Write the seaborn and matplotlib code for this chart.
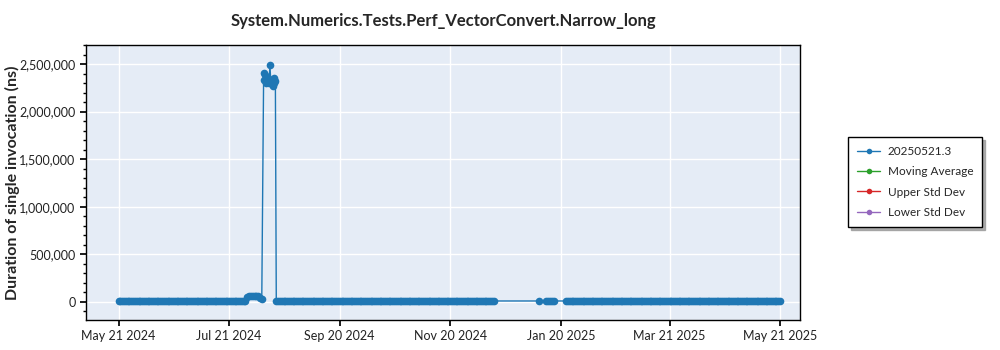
import matplotlib
matplotlib.use("Agg")
import matplotlib.pyplot as plt
import matplotlib.dates as mdates
from matplotlib.ticker import FuncFormatter, MultipleLocator
import pandas as pd
import seaborn as sns

# ---------------- data ----------------
series_name = "20250521.3"
title = "System.Numerics.Tests.Perf_VectorConvert.Narrow_long"
ylabel = "Duration of single invocation (ns)"
legend_labels = ["20250521.3", "Moving Average", "Upper Std Dev", "Lower Std Dev"]
legend_colors = ["#1f77b4", "#2ca02c", "#d62728", "#9467bd"]

# daily runs, May 21 2024 onward
seg1_start = "2024-05-21"
seg1_vals = [10100, 9900, 9800, 10200, 10500, 10000, 9900, 9700, 10100, 10000,
             10400, 10100, 9900, 10000, 9800, 10200, 10100, 10600, 10000, 9900,
             9700, 10100, 10000, 10200, 10500, 10000, 10100, 9800, 10000, 10200,
             10100, 10400, 10000, 9900, 9800, 10000, 10200, 9900, 10100, 10000,
             9800, 10300, 10000, 9900, 10100, 10000, 10200, 9900, 9800, 10100,
             10000, 10400, 10000, 9900, 10100, 9800, 10000, 10200, 10000, 9900,
             10100, 10000, 9800, 10300, 10000, 10100, 9900, 10000, 10200, 9800,
             11000]

bump_start = "2024-07-31"
bump_vals = [48000, 60000, 64000, 66000, 65000, 63000, 60000, 42000, 35000]

spike_start = "2024-08-09 00:00"
spike_vals = [2330000, 2405000, 2380000, 2300000, 2315000, 2350000, 2300000,
              2490000, 2300000, 2285000, 2270000, 2300000, 2350000, 2320000]

seg4_start = "2024-08-16"
seg4_vals = [9800, 10000, 10200, 9900, 10100, 10000, 9800, 10300, 10000, 9900,
             10100, 10000, 10200, 9900, 9800, 10100, 10000, 10400, 10000, 9900,
             10100, 9800, 10000, 10200, 10000, 9900, 10100, 10000, 9800, 10300,
             10000, 10100, 9900, 10000, 10200, 9800, 10000, 10100, 9900, 10000,
             10300, 10000, 9800, 10100, 10000, 9900, 10200, 10000, 10100, 9800,
             10000, 10200, 9900, 10000, 10100, 9800, 10000, 10300, 10000, 9900,
             10100, 10000, 9900, 10200, 10000, 9800, 10100, 10000, 10200, 9900,
             10000, 10100, 9800, 10000, 10300, 10000, 9900, 10100, 10000, 9800,
             10200, 10000, 10100, 9900, 10000, 10200, 9800, 10000, 10100, 9900,
             10000, 10300, 10000, 9800, 10100, 10000, 9900, 10200, 10000, 10100,
             9800, 10000, 10200, 9900, 10000, 10100, 9800, 10000, 10300, 10000,
             9900, 10100, 10000, 9800, 10200, 10000, 10100, 9900, 10000, 10200,
             10000]

seg5_dates = ["2025-01-08", "2025-01-12", "2025-01-13", "2025-01-14",
              "2025-01-15", "2025-01-16"]
seg5_vals = [10200, 9900, 10100, 10000, 9800, 10000]

seg6_start = "2025-01-23"
seg6_vals = [10000, 10100, 9900, 10200, 10000, 9800, 10100, 10000, 10300, 9900,
             10000, 10100, 9800, 10000, 10200, 10000, 9900, 10100, 10000, 9800,
             10200, 10000, 10100, 9900, 10000, 10300, 10000, 9800, 10100, 10000,
             9900, 10200, 10000, 10100, 9800, 10000, 10200, 9900, 10000, 10100,
             10000, 9800, 10300, 10000, 9900, 10100, 10000, 10200, 9800, 10000,
             10100, 9900, 10000, 10200, 10000, 9800, 10100, 10000, 9900, 10100,
             10000, 10200, 9900, 10000, 10100, 9800, 10000, 10300, 10000, 9900,
             10100, 10000, 9800, 10200, 10000, 10100, 9900, 10000, 10200, 9800,
             10000, 10100, 9900, 10000, 10300, 10000, 9800, 10100, 10000, 9900,
             10200, 10000, 10100, 9800, 10000, 10200, 9900, 10000, 10100, 9800,
             10000, 10300, 10000, 9900, 10100, 10000, 9800, 10200, 10000, 10100,
             9900, 10000, 10200, 9800, 10000, 10100, 9900, 10000, 10100]

xtick_dates = ["2024-05-21", "2024-07-21", "2024-09-20", "2024-11-20",
               "2025-01-20", "2025-03-21", "2025-05-21"]
yticks = [0, 500000, 1000000, 1500000, 2000000, 2500000]

dates = (list(pd.date_range(seg1_start, periods=len(seg1_vals), freq="D"))
         + list(pd.date_range(bump_start, periods=len(bump_vals), freq="D"))
         + list(pd.date_range(spike_start, periods=len(spike_vals), freq="12h"))
         + list(pd.date_range(seg4_start, periods=len(seg4_vals), freq="D"))
         + list(pd.to_datetime(seg5_dates))
         + list(pd.date_range(seg6_start, periods=len(seg6_vals), freq="D")))
values = seg1_vals + bump_vals + spike_vals + seg4_vals + seg5_vals + seg6_vals
df = pd.DataFrame({"date": dates, "value": values})

# ---------------- plot ----------------
sns.set_theme(style="white")
plt.rcParams["font.family"] = ["Lato", "DejaVu Sans"]

fig = plt.figure(figsize=(10, 3.5), dpi=100)
ax = fig.add_axes([0.086, 0.0857, 0.714, 0.7857])
ax.set_facecolor("#E5ECF6")

sns.lineplot(data=df, x="date", y="value", ax=ax, color=legend_colors[0],
             linewidth=1, marker="o", markersize=5.5, markeredgewidth=0,
             label=series_name, legend=False)

ax.set_xlim(pd.Timestamp("2024-05-03"), pd.Timestamp("2025-06-01"))
ax.set_ylim(-190000, 2700000)
ax.set_xticks(pd.to_datetime(xtick_dates))
ax.xaxis.set_major_formatter(mdates.DateFormatter("%b %d %Y"))
ax.set_yticks(yticks)
ax.yaxis.set_minor_locator(MultipleLocator(100000))
ax.yaxis.set_major_formatter(FuncFormatter(lambda v, p: f"{int(v):,}"))
ax.grid(True, which="major", color="white", linewidth=1)
ax.set_axisbelow(True)

for s in ax.spines.values():
    s.set_color("black")
    s.set_linewidth(1)
ax.tick_params(axis="both", which="major", labelsize=9, length=4, color="black",
               direction="out", left=True, bottom=True, labelcolor="#222222")
ax.tick_params(axis="y", which="minor", length=2, color="black", left=True)

ax.set_xlabel("")
ax.set_ylabel(ylabel, fontsize=11.5, fontweight="bold")
ax.yaxis.set_label_coords(-0.092, 0.5)
ax.set_title(title, fontsize=12, fontweight="bold", pad=14)

handles = []
for lab, col in zip(legend_labels, legend_colors):
    h, = ax.plot([], [], color=col, marker="o", markersize=4, linewidth=1,
                 markeredgewidth=0, label=lab)
    handles.append(h)

leg = fig.legend(handles=handles, loc="upper left", bbox_to_anchor=(0.848, 0.609),
                 borderaxespad=0, fontsize=8.5, frameon=True, fancybox=False,
                 shadow={"color": "0.6", "alpha": 0.8},
                 handlelength=2.0, handletextpad=0.6, borderpad=0.75,
                 labelspacing=0.8)
leg.get_frame().set_edgecolor("black")
leg.get_frame().set_linewidth(1)

fig.savefig("out.png", dpi=100)
